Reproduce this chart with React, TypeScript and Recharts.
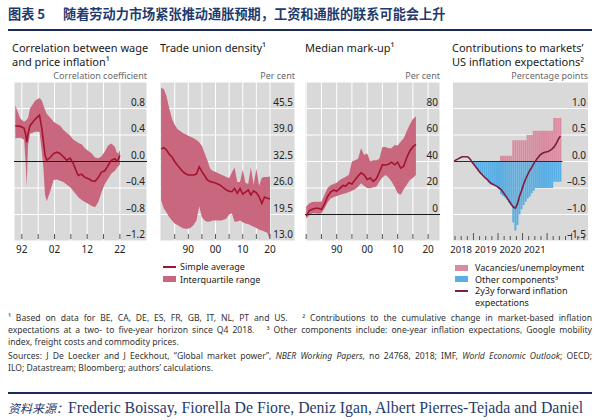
import React from 'react';
import { ComposedChart, Area, Line, Bar, XAxis, YAxis, CartesianGrid, ReferenceLine } from 'recharts';

const FONT = '"Noto Sans", "Open Sans", sans-serif';
const GRAY = '#d9d9d9';
const BAND = '#c9677f';
const AVG = '#a3142f';
const PINK = '#d98b9f';
const BLUE = '#5aaee3';
const FWD = '#7d1d3f';
const NAVY = '#1f3b6e';

const PLOT_TOP = 82;
const PLOT_H = 159;
const AXIS_H = 22;

// ---------- Panel 1: correlation between wage and price inflation ----------
const p1Years = [1990.0, 1991.5, 1992.7, 1993.2, 1993.5, 1993.9, 1994.5, 1996.1, 1997.4, 1998.1,
  1998.6, 1999.1, 1999.6, 2000.7, 2001.7, 2002.7, 2003.7, 2004.7, 2005.8, 2006.8,
  2007.8, 2008.8, 2009.3, 2010.3, 2011.3, 2012.4, 2013.4, 2014.4, 2015.4, 2016.4,
  2017.4, 2018.4, 2019.4, 2020.5, 2021.0, 2021.5, 2022.0];
const p1Avg = [0.54, 0.53, 0.5, 0.4, 0.29, 0.42, 0.54, 0.64, 0.7, 0.5,
  0.3, 0.1, 0.02, 0.06, 0.12, 0.14, 0.12, 0.07, 0.02, 0.05,
  -0.04, -0.16, -0.21, -0.19, -0.24, -0.26, -0.29, -0.3, -0.24, -0.16,
  -0.14, -0.06, 0.02, 0.04, 0.0, 0.03, 0.09];
const p1Lo = [0.35, 0.36, 0.33, -0.05, -0.38, 0.25, 0.42, 0.45, 0.45, 0.15,
  -0.1, -0.5, -0.6, -0.45, -0.28, -0.27, -0.29, -0.31, -0.35, -0.39,
  -0.45, -0.51, -0.54, -0.58, -0.61, -0.64, -0.67, -0.69, -0.61, -0.46,
  -0.34, -0.26, -0.18, -0.14, -0.1, -0.07, -0.05];
const p1Hi = [0.85, 0.65, 0.6, 0.62, 0.63, 0.66, 0.8, 0.92, 0.96, 0.92,
  0.85, 0.78, 0.72, 0.66, 0.6, 0.57, 0.54, 0.48, 0.43, 0.39,
  0.33, 0.3, 0.28, 0.26, 0.2, 0.16, 0.12, 0.06, 0.05, 0.08,
  0.15, 0.24, 0.27, 0.22, 0.14, 0.12, 0.17];
const p1YTicks = [-1.2, -0.8, -0.4, 0, 0.4, 0.8];
const p1XTicks = [1992, 1997, 2002, 2007, 2012, 2017, 2022];
const p1XLabels: Record<number, string> = { 1992: '92', 2002: '02', 2012: '12', 2022: '22' };

// ---------- Panel 2: trade union density ----------
const p2Years = [1980, 1981, 1982, 1983, 1984, 1985, 1986, 1987, 1988, 1989, 1990, 1991, 1992, 1993, 1994,
  1995, 1996, 1997, 1998, 1999, 2000, 2001, 2002, 2003, 2004, 2005, 2006, 2007, 2008, 2009,
  2010, 2011, 2012, 2013, 2014, 2015, 2016, 2017, 2018, 2019, 2020];
const p2Avg = [35.6, 35.9, 35.3, 34.3, 33.6, 32.5, 31.6, 30.8, 30.0, 29.5, 29.2, 29.2, 29.2, 29.4, 31.2,
  30.0, 29.0, 28.0, 27.6, 27.4, 27.2, 26.9, 26.6, 26.0, 25.5, 25.2, 25.1, 25.9, 24.7, 25.9,
  24.5, 25.0, 25.5, 24.3, 25.3, 24.8, 23.9, 22.2, 23.8, 23.5, 23.3];
const p2Hi = [50.5, 50.3, 48.5, 45.5, 43.0, 41.5, 40.5, 40.0, 39.5, 39.2, 38.8, 38.5, 38.2, 37.8, 37.2,
  36.3, 34.5, 32.8, 30.8, 30.2, 30.0, 29.6, 29.3, 29.0, 28.7, 28.4, 29.8, 31.0, 27.5, 27.5,
  30.5, 27.3, 27.0, 31.0, 26.8, 30.8, 26.5, 28.5, 28.7, 28.7, 28.8];
const p2Lo = [23.0, 21.0, 20.0, 18.8, 18.0, 17.3, 16.9, 16.5, 16.1, 16.0, 16.0, 16.3, 17.0, 18.0, 21.5,
  18.8, 18.0, 17.7, 17.8, 18.0, 18.0, 18.0, 18.0, 18.2, 18.5, 19.5, 19.8, 17.7, 17.8, 18.0,
  17.6, 17.3, 17.2, 16.8, 16.5, 16.2, 15.8, 15.6, 15.3, 15.0, 13.3];
const p2YTicks = [13, 19.5, 26, 32.5, 39, 45.5];
const p2XTicks = [1985, 1990, 1995, 2000, 2005, 2010, 2015, 2020];
const p2XLabels: Record<number, string> = { 1990: '90', 2000: '00', 2010: '10', 2020: '20' };

// ---------- Panel 3: median mark-up ----------
const p3Years = [1980, 1981, 1982, 1983, 1984, 1985, 1986, 1987, 1988, 1989, 1990, 1991, 1992, 1993, 1994,
  1995, 1996, 1997, 1998, 1999, 2000, 2001, 2002, 2003, 2004, 2005, 2006, 2007, 2008, 2009,
  2010, 2011, 2012, 2013, 2014, 2015, 2016];
const p3Avg = [-1, 3, 4, 4.7, 4.7, 3.8, 8, 13.5, 17, 18.5, 17.5, 19.5, 22, 21.5, 24,
  23, 26, 29, 31.5, 30, 26.5, 27.5, 25, 27, 32, 37.5, 37.4, 38, 39.5, 37.5,
  39.5, 35, 36.5, 43, 48, 51, 53];
const p3Hi = [6, 8.5, 9.5, 9.7, 9.7, 9.7, 15, 20, 22, 23, 24, 26, 27.3, 28.5, 30,
  40, 41, 42, 50, 45, 46, 40, 41, 41, 42, 51, 51, 50, 50, 52.5,
  52, 55, 57.5, 63, 68, 72, 74];
const p3Lo = [-3, -0.5, 1, 1, 0.5, 1, 4.5, 9, 12, 13, 14, 14.7, 15.5, 16, 17,
  18, 19, 21, 23.5, 21.5, 20, 19.8, 20.5, 21, 25, 28, 29.8, 28, 25, 21,
  16, 15, 19, 22.5, 26, 27.5, 29.8];
const p3YTicks = [0, 20, 40, 60, 80];
const p3XTicks = [1980, 1985, 1990, 1995, 2000, 2005, 2010, 2015, 2020];
const p3XLabels: Record<number, string> = { 1990: '90', 2000: '00', 2010: '10', 2020: '20' };

// ---------- Panel 4: contributions to US inflation expectations (monthly, from 2018-03) ----------
const p4Pink = [0, 0, 0, 0, 0, 0, 0, 0, 0, 0, 0, 0, 0, 0, 0, 0, 0, 0, 0, 0, 0, 0, 0,
  0.11, 0.11, 0.11, 0.11, 0.11, 0.11,
  0.4, 0.4, 0.4, 0.4, 0.4, 0.4, 0.4,
  0.5, 0.5, 0.5,
  0.58, 0.58, 0.58, 0.58, 0.58, 0.58, 0.58, 0.58, 0.58, 0.58,
  0.82, 0.82, 0.82, 0.82];
const p4Blue = [0, 0, 0, 0, 0, 0, 0, 0, 0,
  -0.04, -0.08, -0.13, -0.19, -0.22, -0.25, -0.3, -0.35, -0.4, -0.43, -0.44, -0.45, -0.48, -0.52,
  -0.62, -0.65, -0.68, -0.72, -0.78, -0.82,
  -1.15, -1.3, -1.2, -1.0, -0.9, -0.82, -0.76, -0.7, -0.66, -0.6,
  -0.55, -0.5, -0.5, -0.5, -0.5, -0.5, -0.5, -0.5, -0.5, -0.5,
  -0.38, -0.38, -0.38, -0.38];
const p4Fwd = [0, 0.03, 0.05, 0.07, 0.09, 0.09, 0.09, 0.08, 0.04, -0.02,
  -0.07, -0.12, -0.17, -0.22, -0.26, -0.3, -0.33, -0.37, -0.41, -0.43,
  -0.45, -0.47, -0.5, -0.53, -0.58, -0.63, -0.69, -0.75, -0.81, -0.86,
  -0.88, -0.8, -0.66, -0.55, -0.43, -0.33, -0.25, -0.17, -0.11, -0.04,
  0.02, 0.07, 0.12, 0.15, 0.17, 0.18, 0.19, 0.21, 0.24, 0.28,
  0.34, 0.42, 0.48];
const p4MonthCount = 66;
const p4Months: string[] = Array.from({ length: p4MonthCount }, (_, i) => {
  const t = 2018 * 12 + 2 + i;
  return `${Math.floor(t / 12)}-${String((t % 12) + 1).padStart(2, '0')}`;
});
const p4YTicks = [-1.5, -1, -0.5, 0, 0.5, 1];

const dash = (v: number, d: number) => (v < 0 ? '–' + Math.abs(v).toFixed(d) : v.toFixed(d));

type BandProps = {
  left: number; width: number; xDomain: [number, number]; yDomain: [number, number];
  data: any[]; yTicks: number[]; fmt: (v: number) => string;
  xTicks: number[]; xLabels: Record<number, string>; zero: boolean;
};

function BandPanel(p: BandProps) {
  const xTick = (props: any) => {
    const { x, y, payload } = props;
    const lab = p.xLabels[payload.value];
    return (
      <g>
        <line x1={x} x2={x} y1={y - 7} y2={y - 2} stroke="#555" strokeWidth={1} />
        {lab ? <text x={x} y={y + 12} textAnchor="middle" fontSize={10} fill="#222" fontFamily={FONT}>{lab}</text> : null}
      </g>
    );
  };
  const yTick = (props: any) => (
    <text x={p.width - 2} y={props.y - 3} textAnchor="end" fontSize={10} fill="#222" fontFamily={FONT}>{p.fmt(props.payload.value)}</text>
  );
  return (
    <div style={{ position: 'absolute', left: p.left, top: PLOT_TOP }}>
      <ComposedChart width={p.width} height={PLOT_H + AXIS_H} data={p.data} margin={{ top: 0, right: 0, bottom: 0, left: 0 }}>
        <CartesianGrid fill={GRAY} fillOpacity={1} stroke="#ffffff" strokeWidth={1} />
        <XAxis dataKey="year" type="number" domain={p.xDomain} allowDataOverflow ticks={p.xTicks} interval={0}
          tick={xTick} tickLine={false} axisLine={false} tickSize={0} tickMargin={0} height={AXIS_H} />
        <YAxis orientation="right" mirror type="number" domain={p.yDomain} allowDataOverflow ticks={p.yTicks} interval={0}
          tick={yTick} tickLine={false} axisLine={false} tickSize={0} tickMargin={0} width={40} />
        <Area dataKey="range" type="linear" fill={BAND} fillOpacity={1} stroke="none" isAnimationActive={false} />
        {p.zero ? <ReferenceLine y={0} stroke="#1a1a1a" strokeWidth={1} /> : null}
        <Line dataKey="avg" type="linear" stroke={AVG} strokeWidth={1.6} dot={false} isAnimationActive={false} />
      </ComposedChart>
    </div>
  );
}

function Panel4() {
  const width = 135;
  const data = p4Months.map((m, i) => ({
    m,
    pink: i < p4Pink.length ? p4Pink[i] : undefined,
    blue: i < p4Blue.length ? p4Blue[i] : undefined,
    fwd: i < p4Fwd.length ? p4Fwd[i] : undefined,
  }));
  const band = width / p4MonthCount;
  const xTick = (props: any) => {
    const { x, y, payload } = props;
    const [yy, mm] = String(payload.value).split('-');
    const mon = Number(mm);
    const bx = x - band / 2;
    if (mon === 1) return <line x1={bx} x2={bx} y1={y - 8} y2={y - 1} stroke="#555" />;
    if (mon === 4 || mon === 10) return <line x1={bx} x2={bx} y1={y - 5} y2={y - 1} stroke="#555" />;
    if (mon === 7) {
      return (
        <g>
          <line x1={bx} x2={bx} y1={y - 5} y2={y - 1} stroke="#555" />
          {Number(yy) <= 2021 ? <text x={bx} y={y + 12} textAnchor="middle" fontSize={9.5} fill="#222" fontFamily={FONT}>{yy}</text> : null}
        </g>
      );
    }
    return <g />;
  };
  const yTick = (props: any) => (
    <text x={width - 2} y={props.y - 3} textAnchor="end" fontSize={10} fill="#222" fontFamily={FONT}>{dash(props.payload.value, 1)}</text>
  );
  return (
    <div style={{ position: 'absolute', left: 453, top: PLOT_TOP }}>
      <ComposedChart width={width} height={PLOT_H + AXIS_H} data={data} margin={{ top: 0, right: 0, bottom: 0, left: 0 }}
        barCategoryGap={0} barGap={0} stackOffset="sign">
        <CartesianGrid fill={GRAY} fillOpacity={1} stroke="#ffffff" strokeWidth={1} vertical={false} />
        <XAxis dataKey="m" type="category" interval={0} tick={xTick} tickLine={false} axisLine={false}
          tickSize={0} tickMargin={0} height={AXIS_H} />
        <YAxis orientation="right" mirror type="number" domain={[-1.5, 1.5]} allowDataOverflow ticks={p4YTicks} interval={0}
          tick={yTick} tickLine={false} axisLine={false} tickSize={0} tickMargin={0} width={40} />
        <Bar dataKey="pink" stackId="s" fill={PINK} isAnimationActive={false} />
        <Bar dataKey="blue" stackId="s" fill={BLUE} isAnimationActive={false} />
        <ReferenceLine segment={[{ x: p4Months[0], y: 0 }, { x: p4Months[53], y: 0 }]} stroke="#1c2c55" strokeWidth={1} />
        <Line dataKey="fwd" type="linear" stroke={FWD} strokeWidth={1.6} dot={false} isAnimationActive={false} />
      </ComposedChart>
    </div>
  );
}

const abs = (l: number, t: number, extra: React.CSSProperties = {}): React.CSSProperties => ({
  position: 'absolute', left: l, top: t, whiteSpace: 'nowrap', ...extra,
});

const titleStyle: React.CSSProperties = { fontSize: 11, lineHeight: '15px', color: '#1a1a1a', fontFamily: FONT };
const unitStyle: React.CSSProperties = { fontSize: 9, lineHeight: '12px', color: '#6a6a6a', fontFamily: FONT, textAlign: 'right' };
const legStyle: React.CSSProperties = { fontSize: 9, lineHeight: '11.5px', color: '#1a1a1a', fontFamily: FONT };
const noteStyle: React.CSSProperties = { fontSize: 8.6, lineHeight: '11px', color: '#333', fontFamily: FONT, width: 584, textAlign: 'justify', textAlignLast: 'justify' as any };
const headStyle: React.CSSProperties = { fontSize: 13.2, lineHeight: '18px', fontWeight: 700, color: NAVY, fontFamily: '"Noto Sans CJK SC", sans-serif' };

export default function App() {
  const p1 = p1Years.map((y, i) => ({ year: y, avg: p1Avg[i], range: [p1Lo[i], p1Hi[i]] }));
  const p2 = p2Years.map((y, i) => ({ year: y, avg: p2Avg[i], range: [p2Lo[i], p2Hi[i]] }));
  const p3 = p3Years.map((y, i) => ({ year: y, avg: p3Avg[i], range: [p3Lo[i], p3Hi[i]] }));
  return (
    <div style={{ position: 'absolute', left: 0, top: 0, width: 600, height: 420, background: '#fff', overflow: 'hidden' }}>
      <style>{`.recharts-surface{overflow:visible}`}</style>
      <div style={abs(8, 5, headStyle)}>图表 5</div>
      <div style={abs(63, 5, headStyle)}>随着劳动力市场紧张推动通胀预期，工资和通胀的联系可能会上升</div>
      <div style={abs(8, 29, { width: 584, height: 2, background: '#1c2c55' })} />

      <div style={abs(12, 40, titleStyle)}>Correlation between wage</div>
      <div style={abs(12, 54, titleStyle)}>and price inflation¹</div>
      <div style={abs(14, 70, { ...unitStyle, width: 133 })}>Correlation coefficient</div>
      <div style={abs(160, 40, titleStyle)}>Trade union density¹</div>
      <div style={abs(160, 70, { ...unitStyle, width: 135 })}>Per cent</div>
      <div style={abs(305, 40, titleStyle)}>Median mark-up¹</div>
      <div style={abs(305, 70, { ...unitStyle, width: 135 })}>Per cent</div>
      <div style={abs(452, 40, titleStyle)}>Contributions to markets’</div>
      <div style={abs(452, 54, titleStyle)}>US inflation expectations²</div>
      <div style={abs(453, 70, { ...unitStyle, width: 135 })}>Percentage points</div>

      <BandPanel left={14} width={133} xDomain={[1989.6, 2030.3]} yDomain={[-1.2, 1.2]} data={p1}
        yTicks={p1YTicks} fmt={(v) => dash(v, 1)} xTicks={p1XTicks} xLabels={p1XLabels} zero />
      <BandPanel left={160} width={135} xDomain={[1979.6, 2029.2]} yDomain={[13, 52]} data={p2}
        yTicks={p2YTicks} fmt={(v) => v.toFixed(1)} xTicks={p2XTicks} xLabels={p2XLabels} zero={false} />
      <BandPanel left={305} width={135} xDomain={[1979.6, 2023.9]} yDomain={[-20, 100]} data={p3}
        yTicks={p3YTicks} fmt={(v) => v.toFixed(0)} xTicks={p3XTicks} xLabels={p3XLabels} zero />
      <Panel4 />

      {/* legend for panels 2-3 */}
      <div style={abs(163, 266, { width: 13, height: 2, background: AVG })} />
      <div style={abs(180, 261, legStyle)}>Simple average</div>
      <div style={abs(163, 276, { width: 13, height: 6, background: BAND })} />
      <div style={abs(180, 273.5, legStyle)}>Interquartile range</div>

      {/* legend for panel 4 */}
      <div style={abs(455, 265, { width: 13, height: 6, background: PINK })} />
      <div style={abs(475, 262, legStyle)}>Vacancies/unemployment</div>
      <div style={abs(455, 276, { width: 13, height: 6, background: BLUE })} />
      <div style={abs(475, 273.5, legStyle)}>Other components³</div>
      <div style={abs(455, 290, { width: 13, height: 2, background: FWD })} />
      <div style={abs(475, 285, legStyle)}>2y3y forward inflation<br />expectations</div>

      {/* footnotes */}
      <div style={abs(8, 313, noteStyle)}>¹ Based on data for BE, CA, DE, ES, FR, GB, IT, NL, PT and US.&nbsp;&nbsp; ² Contributions to the cumulative change in market-based inflation</div>
      <div style={abs(8, 325, noteStyle)}>expectations at a two- to five-year horizon since Q4 2018.&nbsp;&nbsp; ³ Other components include: one-year inflation expectations, Google mobility</div>
      <div style={abs(8, 337, { ...noteStyle, textAlignLast: 'left' as any })}>index, freight costs and commodity prices.</div>
      <div style={abs(8, 351, noteStyle)}>Sources: J De Loecker and J Eeckhout, “Global market power”, <i>NBER Working Papers</i>, no 24768, 2018; IMF, <i>World Economic Outlook</i>; OECD;</div>
      <div style={abs(8, 363, { ...noteStyle, textAlignLast: 'left' as any })}>ILO; Datastream; Bloomberg; authors’ calculations.</div>

      <div style={abs(8, 392, { width: 584, height: 2, background: '#1c2c55' })} />
      <div style={abs(8, 398, { fontSize: 15.8, lineHeight: '20px', color: NAVY })}>
        <span style={{ fontFamily: '"Noto Sans CJK SC", sans-serif', fontStyle: 'italic', fontSize: 12 }}>资料来源：</span>
        <span style={{ fontFamily: '"Liberation Serif", serif' }}>Frederic Boissay, Fiorella De Fiore, Deniz Igan, Albert Pierres-Tejada and Daniel</span>
      </div>
    </div>
  );
}
